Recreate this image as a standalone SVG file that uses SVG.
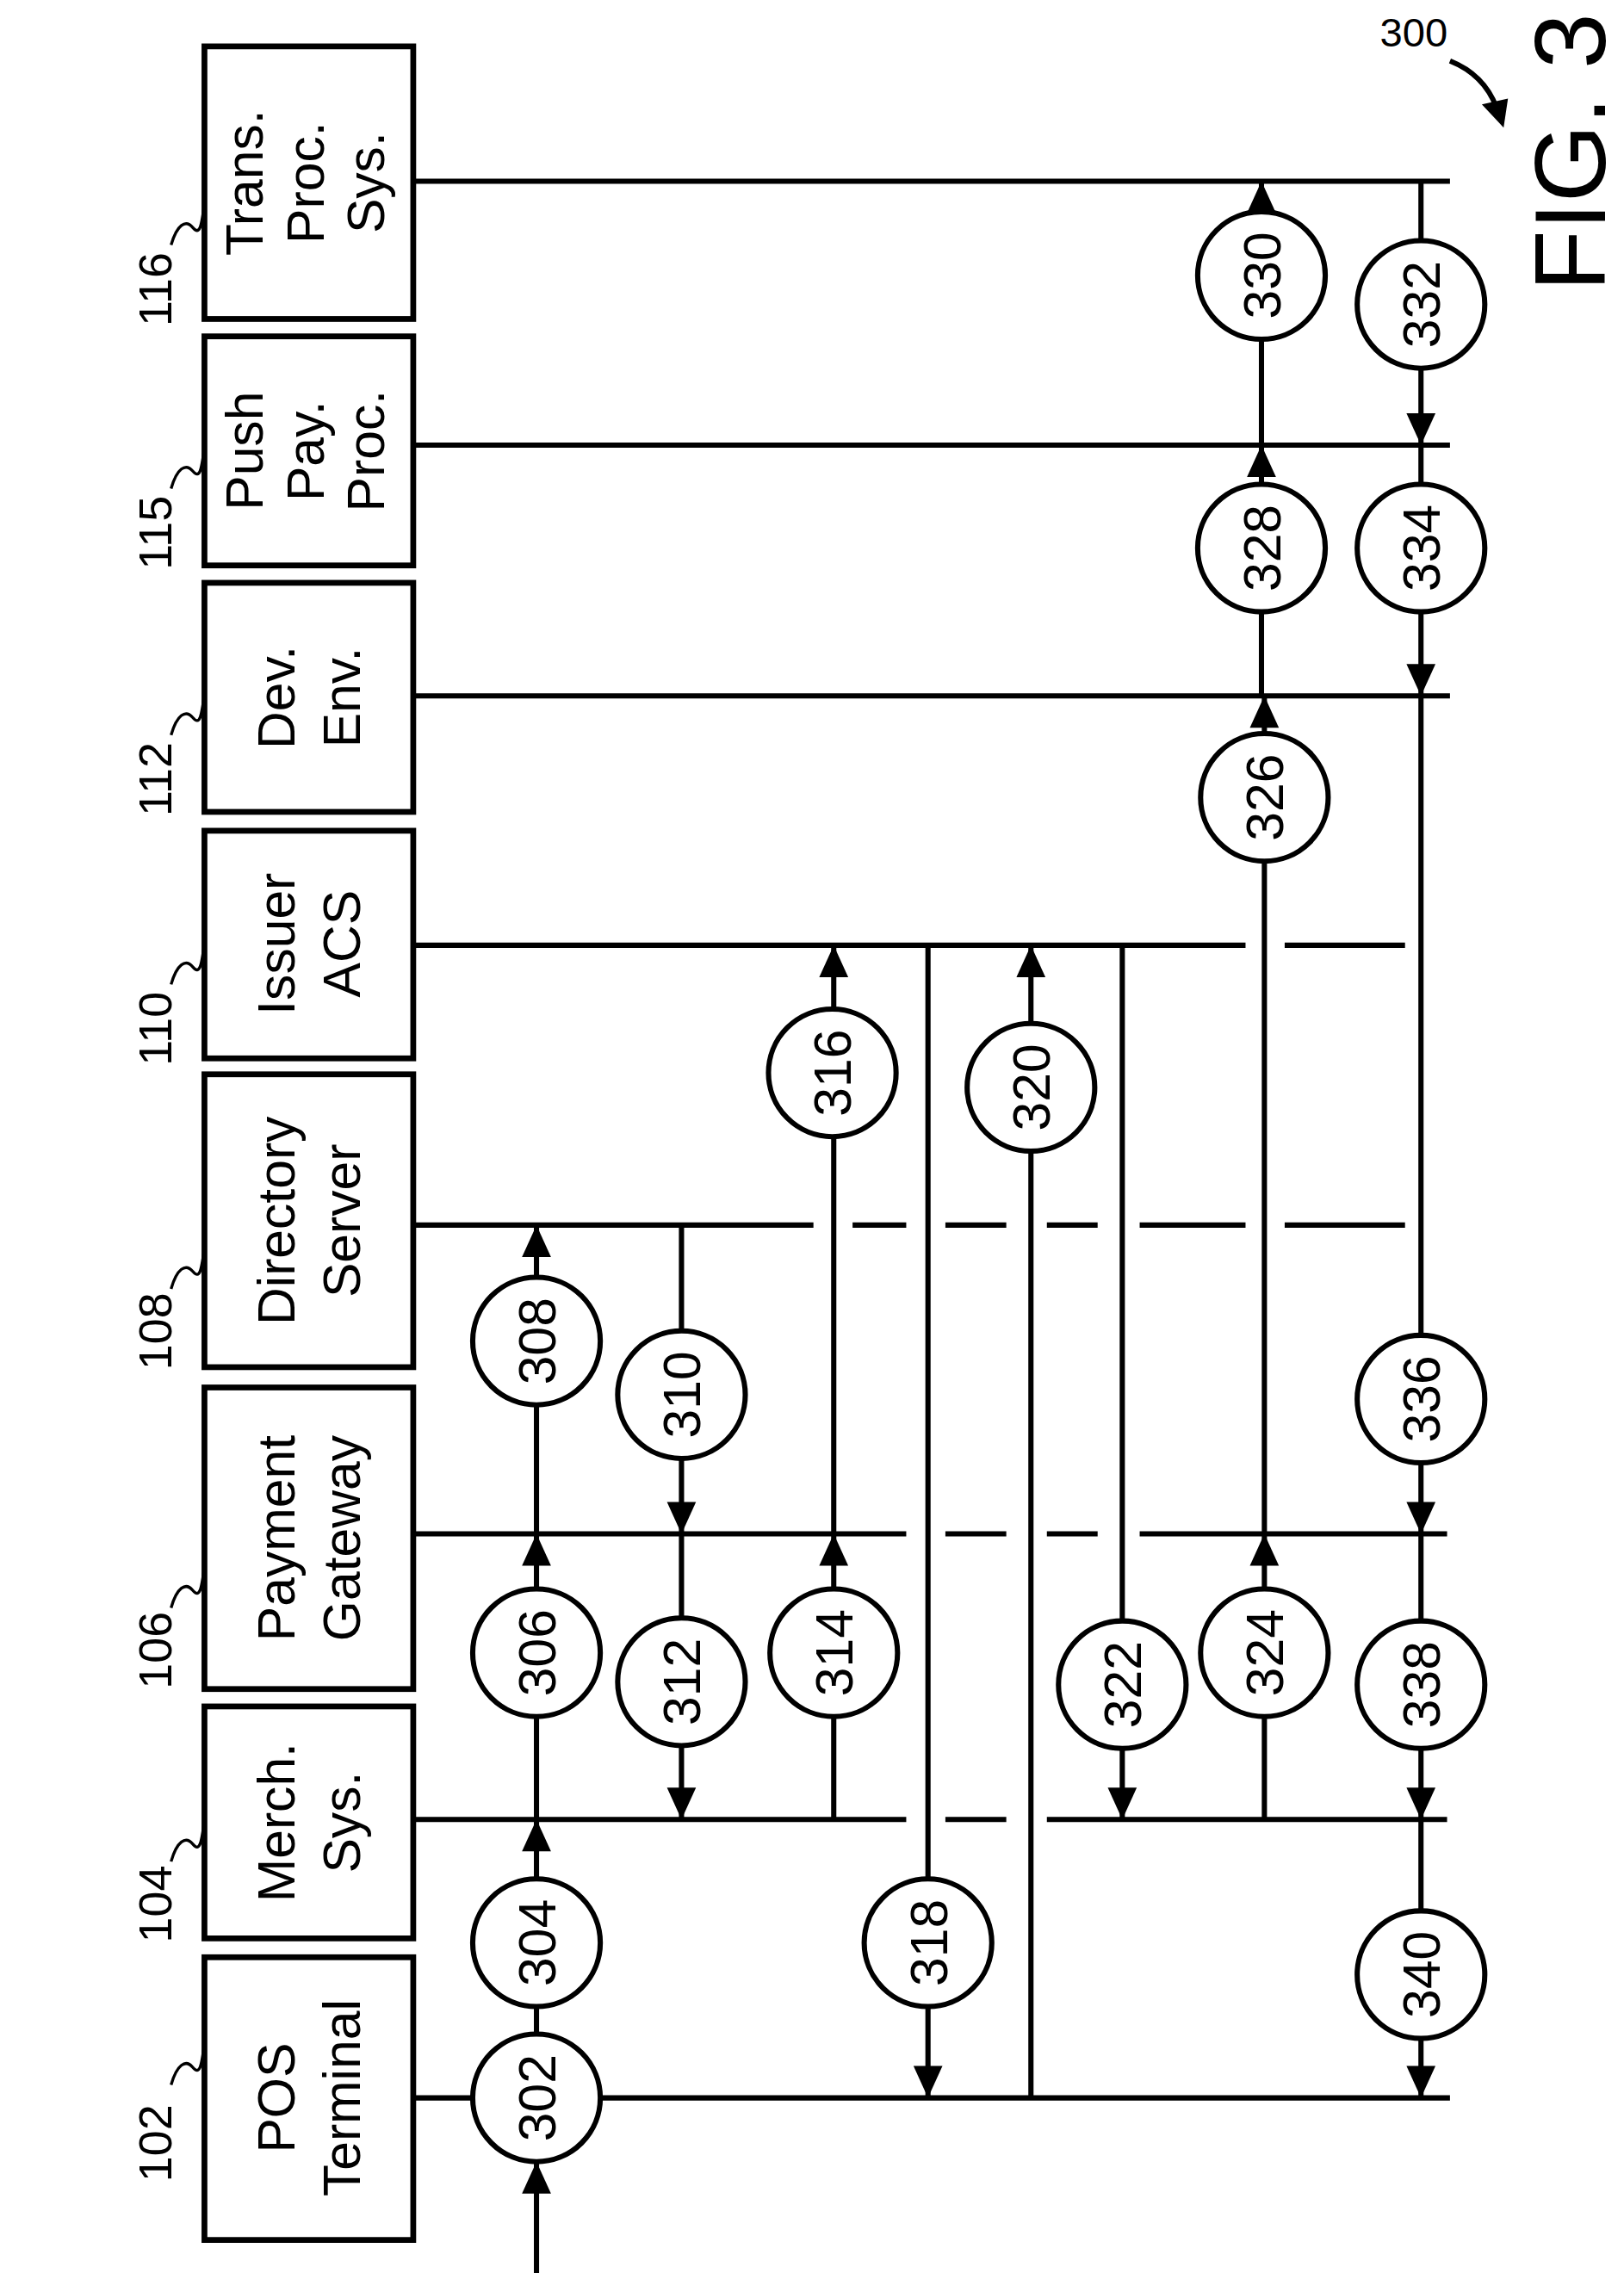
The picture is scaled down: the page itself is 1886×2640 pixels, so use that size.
<svg xmlns="http://www.w3.org/2000/svg" width="1886" height="2640" viewBox="0 0 1886 2640">
<defs>
<style>
.box{fill:#fff;stroke:#000;stroke-width:4}
.ln{stroke:#000;stroke-width:3.6;fill:none}
.sq{stroke:#000;stroke-width:2;fill:none}
.c{fill:#fff;stroke:#000;stroke-width:3.6}
.t{font-family:"Liberation Sans",Arial,sans-serif;font-size:36px;text-anchor:middle}
.n{font-family:"Liberation Sans",Arial,sans-serif;font-size:36px;text-anchor:middle}
.r{font-family:"Liberation Sans",Arial,sans-serif;font-size:32px;text-anchor:start}
</style>
</defs>
<rect width="1886" height="2640" fill="#fff"/>
<g transform="scale(1.6839)">
<g id="connectors">
<path class="ln" d="M285,1447H1000"/>
<path class="ln" d="M285,1255H625M652,1255H694M722,1255H998"/>
<path class="ln" d="M285,1058H625M652,1058H694M722,1058H757M786,1058H998"/>
<path class="ln" d="M285,845H561M588,845H625M652,845H694M722,845H757M786,845H859M886,845H969"/>
<path class="ln" d="M285,652H859M886,652H969"/>
<path class="ln" d="M285,480H1000"/>
<path class="ln" d="M285,307H1000"/>
<path class="ln" d="M285,125H1000"/>
<path class="ln" d="M370,1568V1447V1255"/>
<path class="ln" d="M370,1255V1058"/>
<path class="ln" d="M370,1058V845"/>
<path class="ln" d="M470,845V1255"/>
<path class="ln" d="M575,1255V652"/>
<path class="ln" d="M640,652V1447"/>
<path class="ln" d="M711,1447V652"/>
<path class="ln" d="M774,652V1255"/>
<path class="ln" d="M872,1255V480"/>
<path class="ln" d="M870,480V125"/>
<path class="ln" d="M980,125V1447"/>
<g fill="#000">
<path d="M370,1491l-10,22h20z"/>
<path d="M370,1255l-10,22h20z"/>
<path d="M370,1058l-10,22h20z"/>
<path d="M370,845l-10,22h20z"/>
<path d="M470,1058l-10,-22h20z"/>
<path d="M470,1255l-10,-22h20z"/>
<path d="M575,1058l-10,22h20z"/>
<path d="M575,652l-10,22h20z"/>
<path d="M640,1447l-10,-22h20z"/>
<path d="M711,652l-10,22h20z"/>
<path d="M774,1255l-10,-22h20z"/>
<path d="M872,1058l-10,22h20z"/>
<path d="M872,480l-10,22h20z"/>
<path d="M870,307l-10,22h20z"/>
<path d="M870,125l-10,22h20z"/>
<path d="M980,307l-10,-22h20z"/>
<path d="M980,480l-10,-22h20z"/>
<path d="M980,1058l-10,-22h20z"/>
<path d="M980,1255l-10,-22h20z"/>
<path d="M980,1447l-10,-22h20z"/>
</g>
<path class="sq" d="M118,1438C122,1424 128,1420 133,1426S139,1424 141,1410"/>
<path class="sq" d="M118,1284C122,1270 128,1266 133,1272S139,1270 141,1256"/>
<path class="sq" d="M118,1109C122,1095 128,1091 133,1097S139,1095 141,1081"/>
<path class="sq" d="M118,889C122,875 128,871 133,877S139,875 141,861"/>
<path class="sq" d="M118,679C122,665 128,661 133,667S139,665 141,651"/>
<path class="sq" d="M118,507C122,493 128,489 133,495S139,493 141,479"/>
<path class="sq" d="M118,337C122,323 128,319 133,325S139,323 141,309"/>
<path class="sq" d="M118,169C122,155 128,151 133,157S139,155 141,141"/>
<path class="ln" d="M1000,42C1015,48 1026,58 1032,74" stroke-width="2.5"/>
<path d="M1037,88L1022,72L1040,68z"/>
</g>
<g id="n102"><rect class="box" x="141" y="1350" width="144" height="195"/>
<text class="t" transform="translate(203,1447) rotate(-90)">POS</text><text class="t" transform="translate(248,1447) rotate(-90)">Terminal</text>
<text class="r" transform="translate(118,1505) rotate(-90)">102</text></g>
<g id="n104"><rect class="box" x="141" y="1177" width="144" height="160"/>
<text class="t" transform="translate(203,1257) rotate(-90)">Merch.</text><text class="t" transform="translate(248,1257) rotate(-90)">Sys.</text>
<text class="r" transform="translate(118,1340) rotate(-90)">104</text></g>
<g id="n106"><rect class="box" x="141" y="957" width="144" height="208"/>
<text class="t" transform="translate(203,1061) rotate(-90)">Payment</text><text class="t" transform="translate(248,1061) rotate(-90)">Gateway</text>
<text class="r" transform="translate(118,1165) rotate(-90)">106</text></g>
<g id="n108"><rect class="box" x="141" y="741" width="144" height="202"/>
<text class="t" transform="translate(203,842) rotate(-90)">Directory</text><text class="t" transform="translate(248,842) rotate(-90)">Server</text>
<text class="r" transform="translate(118,945) rotate(-90)">108</text></g>
<g id="n110"><rect class="box" x="141" y="573" width="144" height="157"/>
<text class="t" transform="translate(203,651) rotate(-90)">Issuer</text><text class="t" transform="translate(248,651) rotate(-90)">ACS</text>
<text class="r" transform="translate(118,735) rotate(-90)">110</text></g>
<g id="n112"><rect class="box" x="141" y="402" width="144" height="158"/>
<text class="t" transform="translate(203,481) rotate(-90)">Dev.</text><text class="t" transform="translate(248,481) rotate(-90)">Env.</text>
<text class="r" transform="translate(118,563) rotate(-90)">112</text></g>
<g id="n115"><rect class="box" x="141" y="232" width="144" height="158"/>
<text class="t" transform="translate(181,311) rotate(-90)">Push</text><text class="t" transform="translate(223,311) rotate(-90)">Pay.</text><text class="t" transform="translate(265,311) rotate(-90)">Proc.</text>
<text class="r" transform="translate(118,393) rotate(-90)">115</text></g>
<g id="n116"><rect class="box" x="141" y="32" width="144" height="188"/>
<text class="t" transform="translate(181,126) rotate(-90)">Trans.</text><text class="t" transform="translate(223,126) rotate(-90)">Proc.</text><text class="t" transform="translate(265,126) rotate(-90)">Sys.</text>
<text class="r" transform="translate(118,225) rotate(-90)">116</text></g>
<g id="steps">
<g id="s302"><circle class="c" cx="370" cy="1447" r="44"/><text class="n" transform="translate(383,1447) rotate(-90)">302</text></g>
<g id="s304"><circle class="c" cx="370" cy="1340" r="44"/><text class="n" transform="translate(383,1340) rotate(-90)">304</text></g>
<g id="s306"><circle class="c" cx="370" cy="1140" r="44"/><text class="n" transform="translate(383,1140) rotate(-90)">306</text></g>
<g id="s308"><circle class="c" cx="370" cy="925" r="44"/><text class="n" transform="translate(383,925) rotate(-90)">308</text></g>
<g id="s310"><circle class="c" cx="470" cy="962" r="44"/><text class="n" transform="translate(483,962) rotate(-90)">310</text></g>
<g id="s312"><circle class="c" cx="470" cy="1160" r="44"/><text class="n" transform="translate(483,1160) rotate(-90)">312</text></g>
<g id="s314"><circle class="c" cx="575" cy="1140" r="44"/><text class="n" transform="translate(588,1140) rotate(-90)">314</text></g>
<g id="s316"><circle class="c" cx="574" cy="740" r="44"/><text class="n" transform="translate(587,740) rotate(-90)">316</text></g>
<g id="s318"><circle class="c" cx="640" cy="1340" r="44"/><text class="n" transform="translate(653,1340) rotate(-90)">318</text></g>
<g id="s320"><circle class="c" cx="711" cy="750" r="44"/><text class="n" transform="translate(724,750) rotate(-90)">320</text></g>
<g id="s322"><circle class="c" cx="774" cy="1162" r="44"/><text class="n" transform="translate(787,1162) rotate(-90)">322</text></g>
<g id="s324"><circle class="c" cx="872" cy="1140" r="44"/><text class="n" transform="translate(885,1140) rotate(-90)">324</text></g>
<g id="s326"><circle class="c" cx="872" cy="550" r="44"/><text class="n" transform="translate(885,550) rotate(-90)">326</text></g>
<g id="s328"><circle class="c" cx="870" cy="378" r="44"/><text class="n" transform="translate(883,378) rotate(-90)">328</text></g>
<g id="s330"><circle class="c" cx="870" cy="190" r="44"/><text class="n" transform="translate(883,190) rotate(-90)">330</text></g>
<g id="s332"><circle class="c" cx="980" cy="210" r="44"/><text class="n" transform="translate(993,210) rotate(-90)">332</text></g>
<g id="s334"><circle class="c" cx="980" cy="378" r="44"/><text class="n" transform="translate(993,378) rotate(-90)">334</text></g>
<g id="s336"><circle class="c" cx="980" cy="965" r="44"/><text class="n" transform="translate(993,965) rotate(-90)">336</text></g>
<g id="s338"><circle class="c" cx="980" cy="1162" r="44"/><text class="n" transform="translate(993,1162) rotate(-90)">338</text></g>
<g id="s340"><circle class="c" cx="980" cy="1362" r="44"/><text class="n" transform="translate(993,1362) rotate(-90)">340</text></g>
</g>
<text font-family="Liberation Sans,Arial,sans-serif" font-size="28" x="975" y="32" text-anchor="middle">300</text>
<text font-family="Liberation Sans,Arial,sans-serif" font-size="69" text-anchor="middle" transform="translate(1107,105) rotate(-90)">FIG. 3</text>
</g>
</svg>
